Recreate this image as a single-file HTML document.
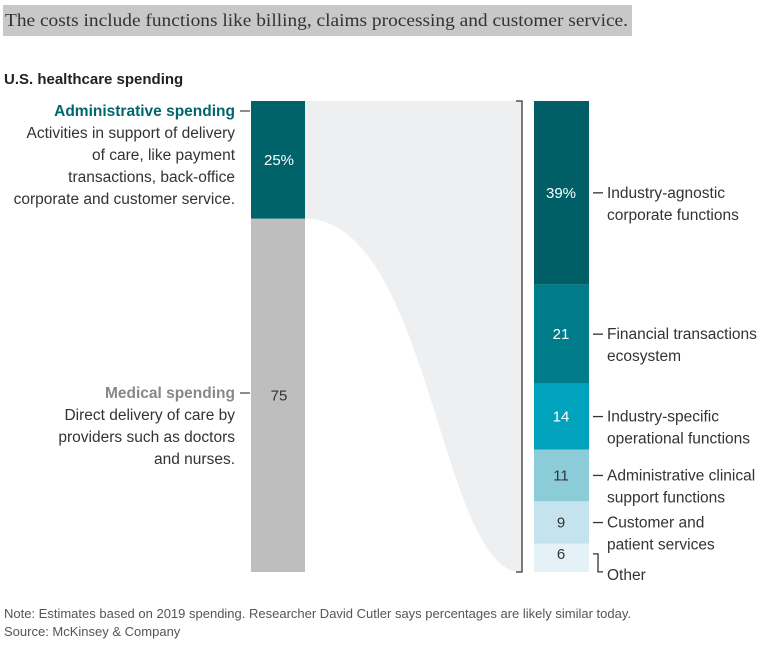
<!DOCTYPE html>
<html><head><meta charset="utf-8"><style>
body{margin:0;width:771px;height:649px;background:#fff;font-family:"Liberation Sans",sans-serif;overflow:hidden}
</style></head><body>
<svg width="771" height="649" xmlns="http://www.w3.org/2000/svg" font-family="Liberation Sans, sans-serif">
<rect x="3" y="5" width="629" height="31" fill="#c8c8c8"/>
<text x="5" y="26" font-family="Liberation Serif, serif" font-size="18" textLength="623" lengthAdjust="spacingAndGlyphs" fill="#333">The costs include functions like billing, claims processing and customer service.</text>
<text x="4" y="84" font-size="15" font-weight="bold" fill="#222">U.S. healthcare spending</text>
<g id="flow"></g>
<g id="left"></g>
<g id="right"></g>
<g font-size="15.5" fill="#333" text-anchor="end">
<text x="235" y="116" font-weight="bold" fill="#00666d">Administrative spending</text>
<text x="235" y="138">Activities in support of delivery</text>
<text x="235" y="160">of care, like payment</text>
<text x="235" y="182">transactions, back-office</text>
<text x="235" y="204">corporate and customer service.</text>
<text x="235" y="398" font-weight="bold" fill="#888">Medical spending</text>
<text x="235" y="420">Direct delivery of care by</text>
<text x="235" y="442">providers such as doctors</text>
<text x="235" y="464">and nurses.</text>
</g>
<line x1="240" y1="111" x2="250" y2="111" stroke="#666" stroke-width="1.5"/>
<line x1="240" y1="393" x2="250" y2="393" stroke="#666" stroke-width="1.5"/>
<path d="M516,101 H522 V572 H516" fill="none" stroke="#333" stroke-width="1.3"/>
<g id="labels" font-size="15.5" fill="#333"></g>
<text x="4" y="618" font-size="13" fill="#555">Note: Estimates based on 2019 spending. Researcher David Cutler says percentages are likely similar today.</text>
<text x="4" y="636" font-size="13" fill="#555">Source: McKinsey &amp; Company</text>
</svg>
<script>
const leftCats=["Administrative","Medical"];
const leftVals=[25,75];
const leftLabels=["25%","75"];
const rightCats=["Industry-agnostic corporate functions","Financial transactions ecosystem","Industry-specific operational functions","Administrative clinical support functions","Customer and patient services","Other"];
const rightVals=[39,21,14,11,9,6];
const rightLabels=["39%","21","14","11","9","6"];
const rightText=[["Industry-agnostic","corporate functions"],["Financial transactions","ecosystem"],["Industry-specific","operational functions"],["Administrative clinical","support functions"],["Customer and","patient services"],["Other"]];
const NS="http://www.w3.org/2000/svg";
const top0=101,H=471;
const y=v=>top0+v/100*H;
function mk(t,a,p){const e=document.createElementNS(NS,t);for(const k in a)e.setAttribute(k,a[k]);p.appendChild(e);return e;}
const lc=["#00636a","#bebebe"],lt=["#fff","#333"];
let cum=0;const L=document.getElementById('left');
leftVals.forEach((v,i)=>{const r=mk('rect',{x:251,y:y(cum),width:54,height:y(cum+v)-y(cum),fill:lc[i]},L);


const t=mk('text',{x:279,y:(y(cum)+y(cum+v))/2+5,'text-anchor':'middle','font-size':15,fill:lt[i]},L);t.textContent=leftLabels[i];
cum+=v;});
const adm=y(leftVals[0]);
const f=mk('path',{d:`M305,${top0} H521 V${y(100)} C440,${y(100)} 430,${adm} 305,${adm} Z`,fill:"#eeeff1"},document.getElementById('flow'));


const rc=["#005f66","#007d8a","#00a3bb","#8ccbd8","#c4e3ee","#e4f1f7"],rt=["#fff","#fff","#fff","#333","#333","#333"];
cum=0;const R=document.getElementById('right'),LB=document.getElementById('labels');
rightVals.forEach((v,i)=>{const y0=y(cum),y1=y(cum+v),m=(y0+y1)/2;
const r=mk('rect',{x:534,y:y0,width:55,height:y1-y0,fill:rc[i]},R);


const last=i==rightVals.length-1;
const t=mk('text',{x:561,y:last?m+1:m+5,'text-anchor':'middle','font-size':15,fill:rt[i]},R);t.textContent=rightLabels[i];
if(last){mk('path',{d:`M593,${m-4} H598 V${m+14} H603`,fill:'none',stroke:'#333','stroke-width':1.3},LB);
const tx=mk('text',{x:607,y:m+22},LB);tx.textContent=rightText[i][0];}
else{mk('line',{x1:593,y1:m,x2:603,y2:m,stroke:'#333','stroke-width':1.3},LB);
rightText[i].forEach((s,j)=>{const tx=mk('text',{x:607,y:m+5+j*22},LB);tx.textContent=s;

});}
cum+=v;});
</script>
</body></html>
